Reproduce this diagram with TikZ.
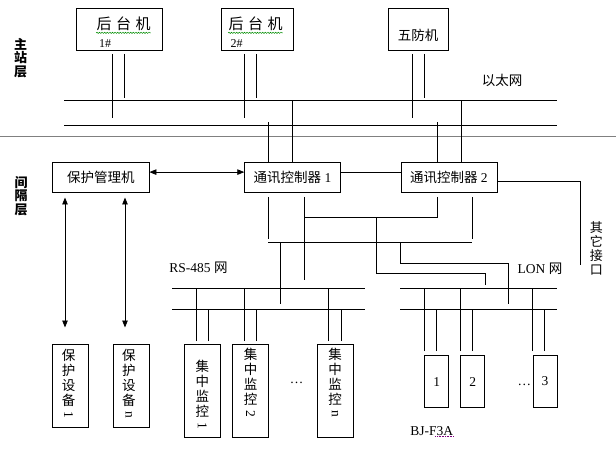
\documentclass[tikz,border=0pt]{standalone}
\usepackage{fontspec}
\usepackage{graphicx}
\setmainfont{Liberation Serif}
\newfontfamily\cjk{Noto Sans CJK SC}
\newcommand{\zh}[1]{{\cjk #1}}
\newcommand{\vdig}[1]{\raisebox{9pt}{\rotatebox{-90}{\rmfamily #1}}}
\usetikzlibrary{arrows.meta,decorations.pathmorphing}

\begin{document}
\begin{tikzpicture}[
    x=1pt, y=-1pt, % pixel-like coordinates, origin top left
    line width=0.8pt,
    >={Triangle[length=7pt,width=5.5pt]}, % filled arrow heads
    box/.style={draw, anchor=north west, inner sep=0pt, font=\fontsize{13.5}{15}\selectfont},
    lbl/.style={inner sep=0pt, font=\fontsize{13.5}{15}\selectfont},
    vtext/.style={inner sep=0pt, align=center, font=\cjk\fontsize{13.5}{15}\selectfont},
    layer/.style={inner sep=0pt, align=center, font=\cjk\bfseries\fontsize{13}{13.3}\selectfont},
    squiggle/.style={green!55!black, line width=0.5pt, decorate,
        decoration={snake, amplitude=0.6pt, segment length=2.6pt}}
]

    \useasboundingbox (0,0) rectangle (616,449);

    % layer names and separator
    \node[layer] (zhan) at (20.6,58) {主\\站\\层};
    \node[layer] (jian) at (21,196) {间\\隔\\层};
    \coordinate (sepw) at (0,136.5);
    \coordinate (sepe) at (616,136.5);
    \draw[gray, line width=1pt] (sepw) -- (sepe);

    % station computers
    \node[box, minimum width=85.5pt, minimum height=42pt] (h1) at (76,8.5) {};
    \node[box, minimum width=71.5pt, minimum height=42pt] (h2) at (221,8.5) {};
    \node[box, minimum width=60pt, minimum height=42pt] (wf) at (388,8.5) {};
    \node[lbl, font=\cjk\fontsize{15}{15}\selectfont] (h1t) at (123.5,24) {后\hspace{4.5pt}台\hspace{4.5pt}机};
    \node[lbl, font=\fontsize{12}{12}\selectfont] (h1n) at (105,44) {1\#};
    \node[lbl, font=\cjk\fontsize{15}{15}\selectfont] (h2t) at (255.5,24) {后\hspace{4.5pt}台\hspace{4.5pt}机};
    \node[lbl, font=\fontsize{12}{12}\selectfont] (h2n) at (236.7,44) {2\#};
    \node[lbl] (wft) at (418,35) {\zh{五防机}};
    \draw[squiggle] ([yshift=-1.5pt]h1t.south west) -- ([yshift=-1.5pt]h1t.south east);
    \draw[squiggle] ([yshift=-1.5pt]h2t.south west) -- ([yshift=-1.5pt]h2t.south east);

    % ethernet
    \coordinate (e1w) at (64,100);   \coordinate (e1e) at (557,100);
    \coordinate (e2w) at (64,125.3); \coordinate (e2e) at (557,125.3);
    \draw (e1w) -- (e1e);
    \draw (e2w) -- (e2e);
    \node[lbl] (eth) at (502,80) {\zh{以太网}};

    % drops from the station computers
    \foreach \h/\a/\b in {h1/36.5/48.1, h2/23.7/35.3, wf/24.6/36.2} {
        \draw ([xshift=\a pt, yshift=-2.5pt]\h.south west) -- ++(0,64);
        \draw ([xshift=\b pt, yshift=-2.5pt]\h.south west) -- ++(0,44);
    }

    % bay level
    \node[box, minimum width=96.3pt, minimum height=30.6pt] (bh) at (52.3,161.7) {\zh{保护管理机}};
    \node[box, minimum width=95.7pt, minimum height=30.6pt] (tx1) at (244.3,161.7) {\zh{通讯控制器} 1};
    \node[box, minimum width=96pt, minimum height=30.6pt] (tx2) at (400.5,161.7) {\zh{通讯控制器} 2};

    % controllers up to the ethernet
    \draw (tx1.north) -- ++(0,-61.7);
    \draw ([xshift=-23.8pt]tx1.north) -- ++(0,-39.4);
    \draw ([xshift=12pt]tx2.north) -- ++(0,-61.7);
    \draw ([xshift=-11.5pt]tx2.north) -- ++(0,-39.4);

    % links between the bay boxes
    \draw[<->] ([yshift=5.3pt]bh.east) -- ([yshift=5.3pt]tx1.west);
    \draw ([yshift=5.3pt]tx1.east) -- ([yshift=5.3pt]tx2.west);
    \coordinate (oth) at (580.7,265);
    \draw ([yshift=-3.7pt]tx2.east) -| (oth);
    \node[vtext, font=\cjk\fontsize{13}{14}\selectfont] (otht) at (596.3,248) {其\\它\\接\\口};

    % controllers down to the field buses
    \coordinate (busA) at (304.4,217.3);
    \coordinate (busBw) at (268.4,242.3);
    \coordinate (busBe) at (472.3,242.3);
    \draw ([xshift=-23.8pt,yshift=-3.7pt]tx1.south) -- ++(0,42.3);
    \draw ([xshift=12.2pt,yshift=-3.7pt]tx1.south) -- ++(0,83.5);
    \draw ([xshift=-11.8pt,yshift=-3.7pt]tx2.south) |- (busA);
    \draw ([xshift=23.8pt,yshift=-3.7pt]tx2.south) -- ++(0,42.3);
    \draw (busBw) -- (busBe);

    \coordinate (jA) at (376.4,217.3);  \coordinate (lonA) at (485,284.7);
    \coordinate (jB) at (400.3,242.3);  \coordinate (lonB) at (508.3,304.3);
    \coordinate (jC) at (280.5,242.3);  \coordinate (rsC) at (280.5,304.3);
    \draw (jA) -- ++(0,56) -| (lonA);
    \draw (jB) -- ++(0,20.7) -| (lonB);
    \draw (jC) -- (rsC);

    % RS-485 and LON buses
    \coordinate (rsTw) at (172,288.3);    \coordinate (rsTe) at (365,288.3);
    \coordinate (rsBw) at (172,309.3);    \coordinate (rsBe) at (365,309.3);
    \coordinate (lonTw) at (400.3,288.3); \coordinate (lonTe) at (557,288.3);
    \coordinate (lonBw) at (400.3,309.3); \coordinate (lonBe) at (557,309.3);
    \draw (rsTw) -- (rsTe);   \draw (rsBw) -- (rsBe);
    \draw (lonTw) -- (lonTe); \draw (lonBw) -- (lonBe);
    \node[lbl] (rst) at (198.5,268) {RS-485 \zh{网}};
    \node[lbl] (lont) at (540,268.3) {LON \zh{网}};

    % protection devices
    \node[box, minimum width=36pt, minimum height=83.3pt] (dv1) at (52.3,344) {};
    \node[box, minimum width=36pt, minimum height=83.3pt] (dv2) at (112.5,344) {};
    \node[vtext, anchor=north] (dv1t) at ([xshift=-2pt,yshift=-5pt]dv1.north) {保\\护\\设\\备\\\vdig{1}};
    \node[vtext, anchor=north] (dv2t) at ([xshift=-2pt,yshift=-5pt]dv2.north) {保\\护\\设\\备\\\vdig{n}};
    \foreach \dx in {12.7,72.7}
        \draw[<->] ([xshift=\dx pt,yshift=-4.4pt]bh.south west) -- ++(0,130);

    % central monitoring units
    \node[box, minimum width=36pt, minimum height=92.4pt] (jk1) at (184,344.3) {};
    \node[box, minimum width=36pt, minimum height=92.4pt] (jk2) at (232.3,344.3) {};
    \node[box, minimum width=36pt, minimum height=92.4pt] (jkn) at (316.7,344.3) {};
    \node[vtext, anchor=north] (jk1t) at ([yshift=-15pt]jk1.north) {集\\中\\监\\控\\\vdig{1}};
    \node[vtext, anchor=north] (jk2t) at ([yshift=-3.5pt]jk2.north) {集\\中\\监\\控\\\vdig{2}};
    \node[vtext, anchor=north] (jknt) at ([yshift=-3.5pt]jkn.north) {集\\中\\监\\控\\\vdig{n}};
    \node[lbl] (dots1) at (296.7,382.7) {…};
    \foreach \d in {jk1,jk2,jkn} {
        \draw ([xshift=12pt,yshift=3.3pt]\d.north west) -- ++(0,-52.7);
        \draw ([xshift=24.5pt,yshift=3.3pt]\d.north west) -- ++(0,-31.7);
    }

    % BJ-F3A units
    \node[box, minimum width=24pt, minimum height=52.3pt] (bj1) at (424.3,355) {\raisebox{-4pt}{1}};
    \node[box, minimum width=24pt, minimum height=52.3pt] (bj2) at (460.3,355) {\raisebox{-4pt}{2}};
    \node[box, minimum width=24pt, minimum height=52.3pt] (bj3) at (532.7,355) {\raisebox{-4pt}{3}};
    \node[lbl] (dots2) at (524.3,385) {…};
    \foreach \d in {bj1,bj2,bj3} {
        \draw ([yshift=4pt]\d.north west) -- ++(0,-62.7);
        \draw ([xshift=11.8pt,yshift=4pt]\d.north west) -- ++(0,-41.7);
    }
    \node[lbl] (bjt) at (431.7,430.7) {BJ-F3A};
    \draw[violet, densely dotted, line width=0.6pt] ([xshift=-18pt,yshift=-1pt]bjt.south east) -- ([yshift=-1pt]bjt.south east);

\end{tikzpicture}
\end{document}
